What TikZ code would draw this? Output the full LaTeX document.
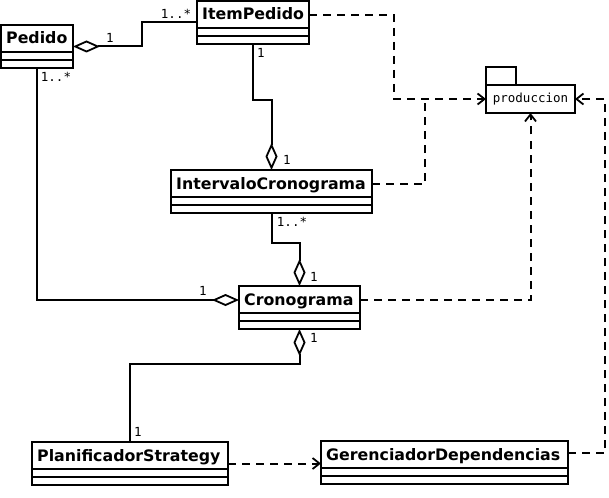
\documentclass[tikz,border=0pt]{standalone}
\usepackage{fontspec}
\setmainfont{DejaVu Sans}
\newfontfamily\monof{DejaVu Sans Mono}
\usetikzlibrary{arrows.meta,calc}
\tikzset{
  clsbox/.style={draw, line width=2pt, fill=white, inner sep=0pt, outer sep=0pt, anchor=north west, minimum height=43pt},
  clstitle/.style={font=\fontsize{15.8}{18}\selectfont\bfseries, anchor=base west, inner sep=0pt},
  mult/.style={font=\monof\fontsize{12.5}{14}\selectfont, inner sep=0pt},
  pkgbox/.style={draw, line width=2pt, fill=white, inner sep=0pt, outer sep=0pt},
  assoc/.style={line width=2pt},
  aggr/.style={assoc, {Diamond[open,length=27pt,width=12pt,line width=1.8pt]}-},
  depline/.style={line width=2pt, dash pattern=on 8pt off 6pt},
  dep/.style={depline, -{Straight Barb[length=7pt,width=11pt,line width=1.8pt]}},
}
\newcommand\umlclass[5]{%
  \node[clsbox, minimum width=#4] (#1) at (#2,#3) {};
  \node[clstitle] (#1-t) at ($(#1.north west)+(5,19)$) {#5};
  \draw[line width=2pt] ($(#1.north west)+(0,27)$) -- ($(#1.north east)+(0,27)$);
  \draw[line width=2pt] ($(#1.north west)+(0,35)$) -- ($(#1.north east)+(0,35)$);
}
\begin{document}
\begin{tikzpicture}[x=1pt,y=-1pt]
\useasboundingbox[fill=white] (0,0) rectangle (609,497);
% package
\node[pkgbox, minimum width=89pt, minimum height=28pt, anchor=north west] (prod) at (486,85) {\monof\fontsize{12.5}{14}\selectfont produccion};
\node[pkgbox, minimum width=30pt, minimum height=18pt, anchor=south west] (prodtab) at (prod.north west) {};
% classes
\umlclass{pedido}{1}{25}{72pt}{Pedido}
\umlclass{item}{197}{1}{112pt}{ItemPedido}
\umlclass{interv}{171}{170}{201pt}{IntervaloCronograma}
\umlclass{crono}{239}{286}{121pt}{Cronograma}
\umlclass{planif}{32}{442}{196pt}{PlanificadorStrategy}
\umlclass{gerenc}{321}{441}{247pt}{GerenciadorDependencias}
% aggregations
\draw[aggr] (pedido.east) -- ++(69,0) |- (item.west);
\draw[aggr] (interv.north) -- ++(0,-70) -| (item.south);
\draw[aggr] (crono.north) -- ++(0,-43) -| (interv.south);
\draw[aggr] ($(crono.north west)+(0,14)$) -| (pedido.south);
\draw[aggr] (crono.south) -- ++(0,35) -| (planif.north);
% multiplicities
\node[mult] (m1) at (176,14) {1..*};
\node[mult] (m2) at (110,38) {1};
\node[mult] (m3) at (56,77) {1..*};
\node[mult] (m4) at (261,53) {1};
\node[mult] (m5) at (287,160) {1};
\node[mult] (m6) at (292,222) {1..*};
\node[mult] (m7) at (314,277) {1};
\node[mult] (m8) at (203,291) {1};
\node[mult] (m9) at (314,338) {1};
\node[mult] (m10) at (138,432) {1};
% dependencies
\coordinate (join) at (425,99);
\draw[dep] (planif.east) -- (planif.east -| gerenc.west);
\draw[dep] ($(gerenc.north east)+(0,12)$) -- ++(37,0) |- (prod.east);
\draw[dep] ($(item.north east)+(0,14)$) -- ++(85,0) |- (prod.west);
\draw[depline] ($(interv.north east)+(0,14)$) -| (join);
\draw[dep] ($(crono.north east)+(0,14)$) -| (prod.south);
\end{tikzpicture}
\end{document}
